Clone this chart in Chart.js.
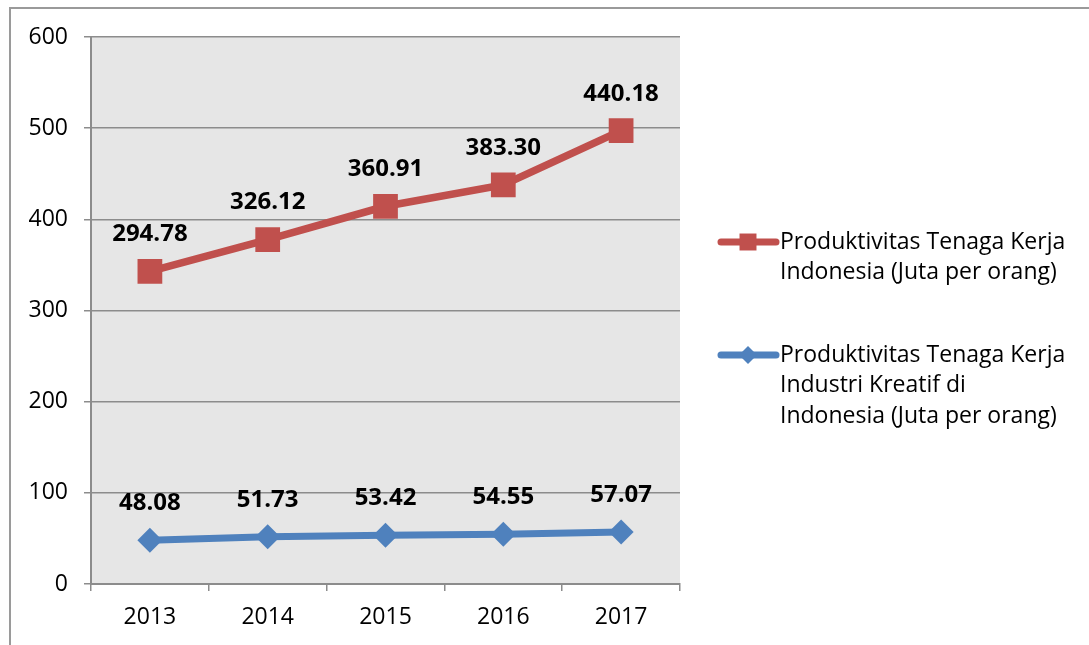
<!DOCTYPE html>
<html>
<head>
<meta charset="utf-8">
<script src="https://cdn.jsdelivr.net/npm/chart.js@4.4.0/dist/chart.umd.min.js"></script>
<style>
  html, body { margin: 0; padding: 0; background: #fff; }
  canvas { display: block; }
</style>
</head>
<body>
<canvas id="myChart" width="1089" height="645"></canvas>
<script>
// Data
const tahun = ['2013', '2014', '2015', '2016', '2017'];
const kreatif = [48.08, 51.73, 53.42, 54.55, 57.07];
const nasional = [294.78, 326.12, 360.91, 383.30, 440.18];
const legendTeks = [
  ['Produktivitas Tenaga Kerja', 'Indonesia (Juta per orang)'],
  ['Produktivitas Tenaga Kerja', 'Industri Kreatif di', 'Indonesia (Juta per orang)']
];

const merah = '#c0504d';
const biru = '#4f81bd';
const font = "'Open Sans', sans-serif";

// Background plot area + outer frame
const latar = {
  id: 'latar',
  beforeDraw(chart) {
    const { ctx, chartArea: a } = chart;
    ctx.save();
    ctx.fillStyle = '#e6e6e6';
    ctx.fillRect(a.left, a.top, a.right - a.left, a.bottom - a.top);
    ctx.strokeStyle = '#9a9a9a';
    ctx.lineWidth = 2;
    ctx.beginPath();
    ctx.moveTo(10, 700);
    ctx.lineTo(10, 8);
    ctx.lineTo(1100, 8);
    ctx.stroke();
    ctx.restore();
  }
};

// Labels above points (raw values)
const labelNilai = {
  id: 'labelNilai',
  afterDatasetsDraw(chart) {
    const { ctx } = chart;
    ctx.save();
    ctx.font = "bold 24px " + font;
    ctx.fillStyle = '#000';
    ctx.textAlign = 'center';
    ctx.textBaseline = 'middle';
    chart.data.datasets.forEach((ds, i) => {
      chart.getDatasetMeta(i).data.forEach((pt, j) => {
        ctx.fillText(ds.data[j].toFixed(2), pt.x, pt.y - 37);
      });
    });
    ctx.restore();
  }
};

// Legend on the right
const legendKanan = {
  id: 'legendKanan',
  afterDraw(chart) {
    const { ctx } = chart;
    const items = [
      { warna: merah, gaya: 'rect', r: 12, y: 242, teks: legendTeks[0] },
      { warna: biru, gaya: 'rectRot', r: 9, y: 355, teks: legendTeks[1] }
    ];
    ctx.save();
    items.forEach(it => {
      ctx.strokeStyle = it.warna;
      ctx.lineWidth = 7;
      ctx.lineCap = 'round';
      ctx.beginPath();
      ctx.moveTo(721, it.y);
      ctx.lineTo(776, it.y);
      ctx.stroke();
      ctx.fillStyle = it.warna;
      Chart.helpers.drawPoint(ctx, { pointStyle: it.gaya, radius: it.r, borderWidth: 0 }, 748, it.y);
      ctx.fillStyle = '#000';
      ctx.font = "23px " + font;
      ctx.textAlign = 'left';
      ctx.textBaseline = 'middle';
      it.teks.forEach((t, k) => ctx.fillText(t, 780, it.y + k * 30.5));
    });
    ctx.restore();
  }
};

const ctx = document.getElementById('myChart').getContext('2d');
new Chart(ctx, {
  type: 'line',
  data: {
    labels: tahun,
    datasets: [{
      label: 'Produktivitas Tenaga Kerja Industri Kreatif di Indonesia (Juta per orang)',
      data: kreatif,
      borderColor: biru,
      backgroundColor: biru,
      borderWidth: 7,
      pointStyle: 'rectRot',
      pointRadius: 12.5,
      pointBorderWidth: 0,
      fill: false,
      tension: 0
    }, {
      label: 'Produktivitas Tenaga Kerja Indonesia (Juta per orang)',
      data: nasional,
      borderColor: merah,
      backgroundColor: merah,
      borderWidth: 7.5,
      pointStyle: 'rect',
      pointRadius: 17.5,
      pointBorderWidth: 0,
      fill: false,
      tension: 0
    }]
  },
  options: {
    responsive: false,
    animation: false,
    layout: { padding: { top: 37, right: 409, left: 0, bottom: 0 } },
    plugins: {
      legend: { display: false },
      tooltip: { enabled: false }
    },
    scales: {
      x: {
        offset: true,
        afterFit(s) { s.height = 61; },
        grid: { offset: true, drawOnChartArea: false, color: '#8c8c8c', tickLength: 7, lineWidth: 1.5 },
        border: { color: '#8c8c8c', width: 2 },
        ticks: { color: '#000', font: { family: font, size: 23 }, padding: 13 }
      },
      y: {
        stacked: true,
        min: 0,
        max: 600,
        afterFit(s) { s.width = 91; },
        grid: { color: '#8c8c8c', tickLength: 7, lineWidth: 1.5 },
        border: { color: '#8c8c8c', width: 2 },
        ticks: { stepSize: 100, color: '#000', font: { family: font, size: 23 }, padding: 16 }
      }
    }
  },
  plugins: [latar, labelNilai, legendKanan]
});
</script>
</body>
</html>
